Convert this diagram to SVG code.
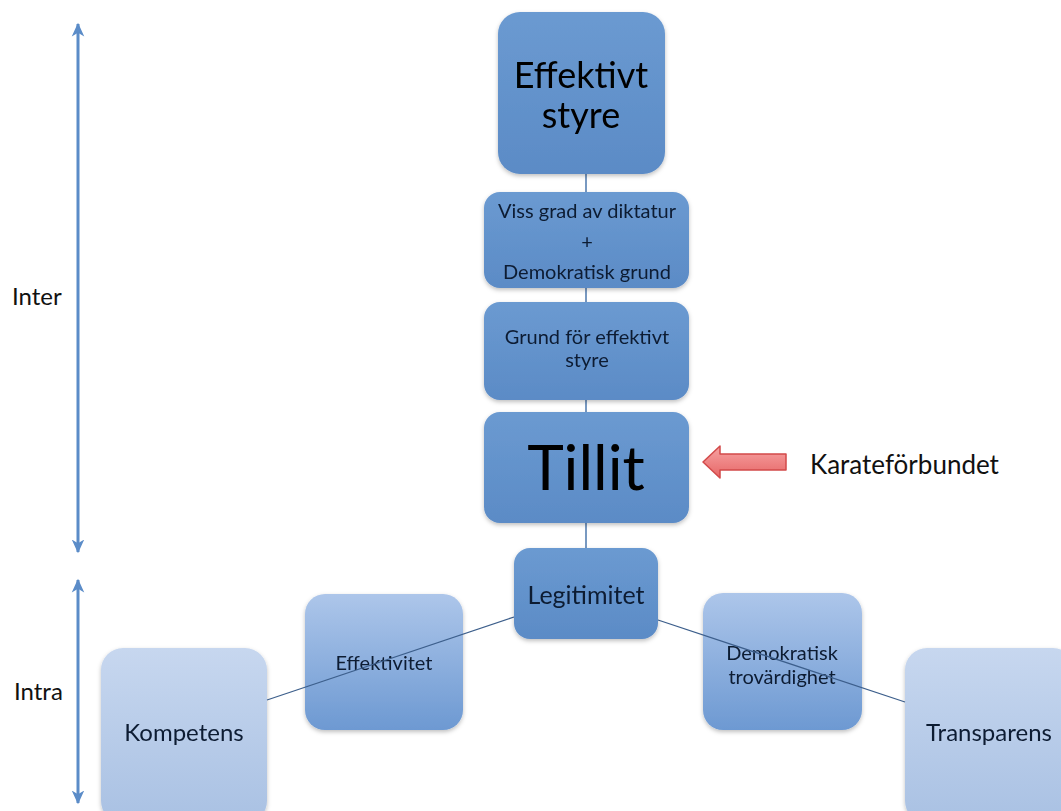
<svg xmlns="http://www.w3.org/2000/svg" width="1061" height="811" viewBox="0 0 1061 811">
<style>
.t{font-family:Lato,"Liberation Sans",sans-serif;text-anchor:middle;fill:#0d1c33}
.big{fill:#000}
.conn{stroke:#4b77ad;stroke-width:1.5;fill:none}
.diag{stroke:#3d5f8c;stroke-width:1.3;fill:none}
.side{stroke:#5b8cc8;stroke-width:3;fill:none}
.lbl{font-family:Lato,"Liberation Sans",sans-serif;fill:#111}
</style>
<defs>
<linearGradient id="gMain" x1="0" y1="0" x2="0" y2="1">
<stop offset="0" stop-color="#6b9ad1"/><stop offset="1" stop-color="#5b8bc6"/>
</linearGradient>
<linearGradient id="gMid" x1="0" y1="0" x2="0" y2="1">
<stop offset="0" stop-color="#adc6ea"/><stop offset="1" stop-color="#6d99d2"/>
</linearGradient>
<linearGradient id="gLight" x1="0" y1="0" x2="0" y2="1">
<stop offset="0" stop-color="#c7d7ef"/><stop offset="1" stop-color="#a9c1e3"/>
</linearGradient>
<linearGradient id="gRed" x1="0" y1="0" x2="0" y2="1">
<stop offset="0" stop-color="#f7a3a3"/><stop offset="1" stop-color="#e76666"/>
</linearGradient>
<filter id="sh" x="-10%" y="-10%" width="125%" height="125%">
<feDropShadow dx="0" dy="2" stdDeviation="2" flood-color="#000" flood-opacity="0.25"/>
</filter>
<marker id="ah" viewBox="0 0 12 12" refX="10" refY="6" markerWidth="5" markerHeight="5" orient="auto-start-reverse" markerUnits="strokeWidth">
<path d="M0,1 L11,6 L0,11 L3,6 Z" fill="#5b8cc8"/>
</marker>
</defs>

<g id="connectors">
<line class="conn" x1="586" y1="174" x2="586" y2="192"/>
<line class="conn" x1="586" y1="288" x2="586" y2="302"/>
<line class="conn" x1="586" y1="400" x2="586" y2="412"/>
<line class="conn" x1="586" y1="523" x2="586" y2="548"/>
</g>

<g id="side-arrows">
<line class="side" x1="78" y1="24" x2="78" y2="552" marker-start="url(#ah)" marker-end="url(#ah)"/>
<line class="side" x1="78" y1="580" x2="78" y2="803" marker-start="url(#ah)" marker-end="url(#ah)"/>
<text class="lbl" x="12" y="305" font-size="24">Inter</text>
<text class="lbl" x="14" y="700" font-size="24">Intra</text>
</g>

<g id="n-effektivt-styre" filter="url(#sh)">
<rect x="498" y="12" width="167" height="162" rx="22" fill="url(#gMain)"/>
<text class="t big" x="581" y="88" font-size="36">Effektivt</text>
<text class="t big" x="581" y="128" font-size="36">styre</text>
</g>

<g id="n-viss-grad" filter="url(#sh)">
<rect x="484" y="192" width="205" height="96" rx="16" fill="url(#gMain)"/>
<text class="t" x="587" y="218" font-size="20">Viss grad av diktatur</text>
<text class="t" x="587" y="249" font-size="20">+</text>
<text class="t" x="587" y="279" font-size="20">Demokratisk grund</text>
</g>

<g id="n-grund" filter="url(#sh)">
<rect x="484" y="302" width="205" height="98" rx="16" fill="url(#gMain)"/>
<text class="t" x="587" y="344" font-size="20">Grund för effektivt</text>
<text class="t" x="587" y="367" font-size="20">styre</text>
</g>

<g id="n-tillit" filter="url(#sh)">
<rect x="484" y="412" width="205" height="111" rx="16" fill="url(#gMain)"/>
<text class="t big" x="586" y="490" font-size="62">Tillit</text>
</g>

<g id="n-effektivitet" filter="url(#sh)">
<rect x="305" y="594" width="158" height="136" rx="20" fill="url(#gMid)"/>
<text class="t" x="384" y="670" font-size="20">Effektivitet</text>
</g>

<g id="n-demokratisk" filter="url(#sh)">
<rect x="703" y="593" width="159" height="137" rx="20" fill="url(#gMid)"/>
<text class="t" x="782" y="660" font-size="20">Demokratisk</text>
<text class="t" x="782" y="684" font-size="20">trovärdighet</text>
</g>

<g id="n-kompetens" filter="url(#sh)">
<rect x="101" y="648" width="166" height="175" rx="22" fill="url(#gLight)"/>
<text class="t" x="184" y="741" font-size="24">Kompetens</text>
</g>

<g id="n-transparens" filter="url(#sh)">
<rect x="905" y="648" width="170" height="175" rx="22" fill="url(#gLight)"/>
<text class="t" x="989" y="741" font-size="24">Transparens</text>
</g>

<g id="diag-connectors">
<line class="diag" x1="514" y1="617" x2="267" y2="700"/>
<line class="diag" x1="658" y1="620" x2="905" y2="702"/>
</g>

<g id="n-legitimitet" filter="url(#sh)">
<rect x="514" y="548" width="144" height="91" rx="16" fill="url(#gMain)"/>
<text class="t" x="586" y="604" font-size="25">Legitimitet</text>
</g>

<g id="karate">
<polygon points="703,462 720,446 720,454 786,454 786,470 720,470 720,478" fill="url(#gRed)" stroke="#d24a4a" stroke-width="1.5" stroke-linejoin="round"/>
<text class="lbl" x="810" y="474" font-size="26">Karateförbundet</text>
</g>
</svg>
